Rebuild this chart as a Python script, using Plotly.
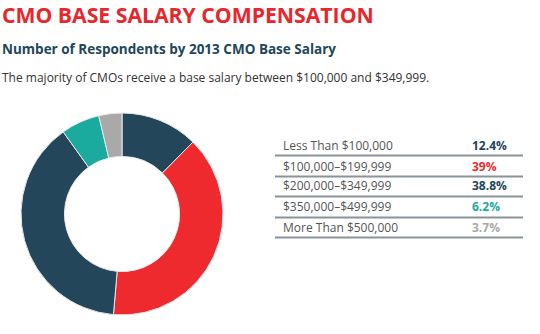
import plotly.graph_objects as go

categories = ["Less Than $100,000", "$100,000–$199,999", "$200,000–$349,999",
              "$350,000–$499,999", "More Than $500,000"]
values = [12.4, 39, 38.8, 6.2, 3.7]
value_labels = ["12.4%", "39%", "38.8%", "6.2%", "3.7%"]
slice_colors = ["#23465a", "#ee2a2f", "#23465a", "#1aaa9e", "#a9a9a9"]
label_colors = ["#23465a", "#ee2a2f", "#23465a", "#1aaa9e", "#a9a9a9"]

W, H = 540, 334

def px(x):
    return x / W

def py(y):
    return 1 - y / H

fig = go.Figure()
fig.add_trace(go.Pie(
    values=values,
    labels=categories,
    sort=False,
    direction="clockwise",
    rotation=0,
    hole=0.57,
    marker=dict(colors=slice_colors, line=dict(color="#e8e8e8", width=1)),
    textinfo="none",
    hoverinfo="label+percent",
    showlegend=False,
    domain=dict(x=[px(21), px(223)], y=[py(315), py(113)]),
))

annotations = [
    dict(text="<b>CMO BASE SALARY COMPENSATION</b>", x=px(0), y=py(15),
         font=dict(family="Open Sans", size=21.2, color="#e8262c")),
    dict(text="<b>Number of Respondents by 2013 CMO Base Salary</b>", x=px(0), y=py(49),
         font=dict(family="Open Sans", size=13.5, color="#23465a")),
    dict(text="The majority of CMOs receive a base salary between $100,000 and $349,999.",
         x=px(0), y=py(77), font=dict(family="Open Sans", size=12, color="#333333")),
]
for a in annotations:
    a.update(xref="paper", yref="paper", xanchor="left", yanchor="middle", showarrow=False)

shapes = []
row_y = [145, 166, 186, 207, 227]
for i, (cat, lab, col) in enumerate(zip(categories, value_labels, label_colors)):
    y = row_y[i]
    annotations.append(dict(text=cat, x=px(281), y=py(y), xref="paper", yref="paper",
                            xanchor="left", yanchor="middle", showarrow=False,
                            font=dict(family="Open Sans", size=12, color="#555555")))
    annotations.append(dict(text="<b>" + lab + "</b>", x=px(470), y=py(y), xref="paper", yref="paper",
                            xanchor="left", yanchor="middle", showarrow=False,
                            font=dict(family="Open Sans", size=12, color=col)))
    shapes.append(dict(type="line", xref="paper", yref="paper",
                       x0=px(275), x1=px(523), y0=py(y + 10.5), y1=py(y + 10.5),
                       line=dict(color="#8a9399", width=2)))

fig.update_layout(
    width=W, height=H,
    margin=dict(l=0, r=0, t=0, b=0),
    paper_bgcolor="white",
    plot_bgcolor="white",
    annotations=annotations,
    shapes=shapes,
)

fig.write_html("out.html")
